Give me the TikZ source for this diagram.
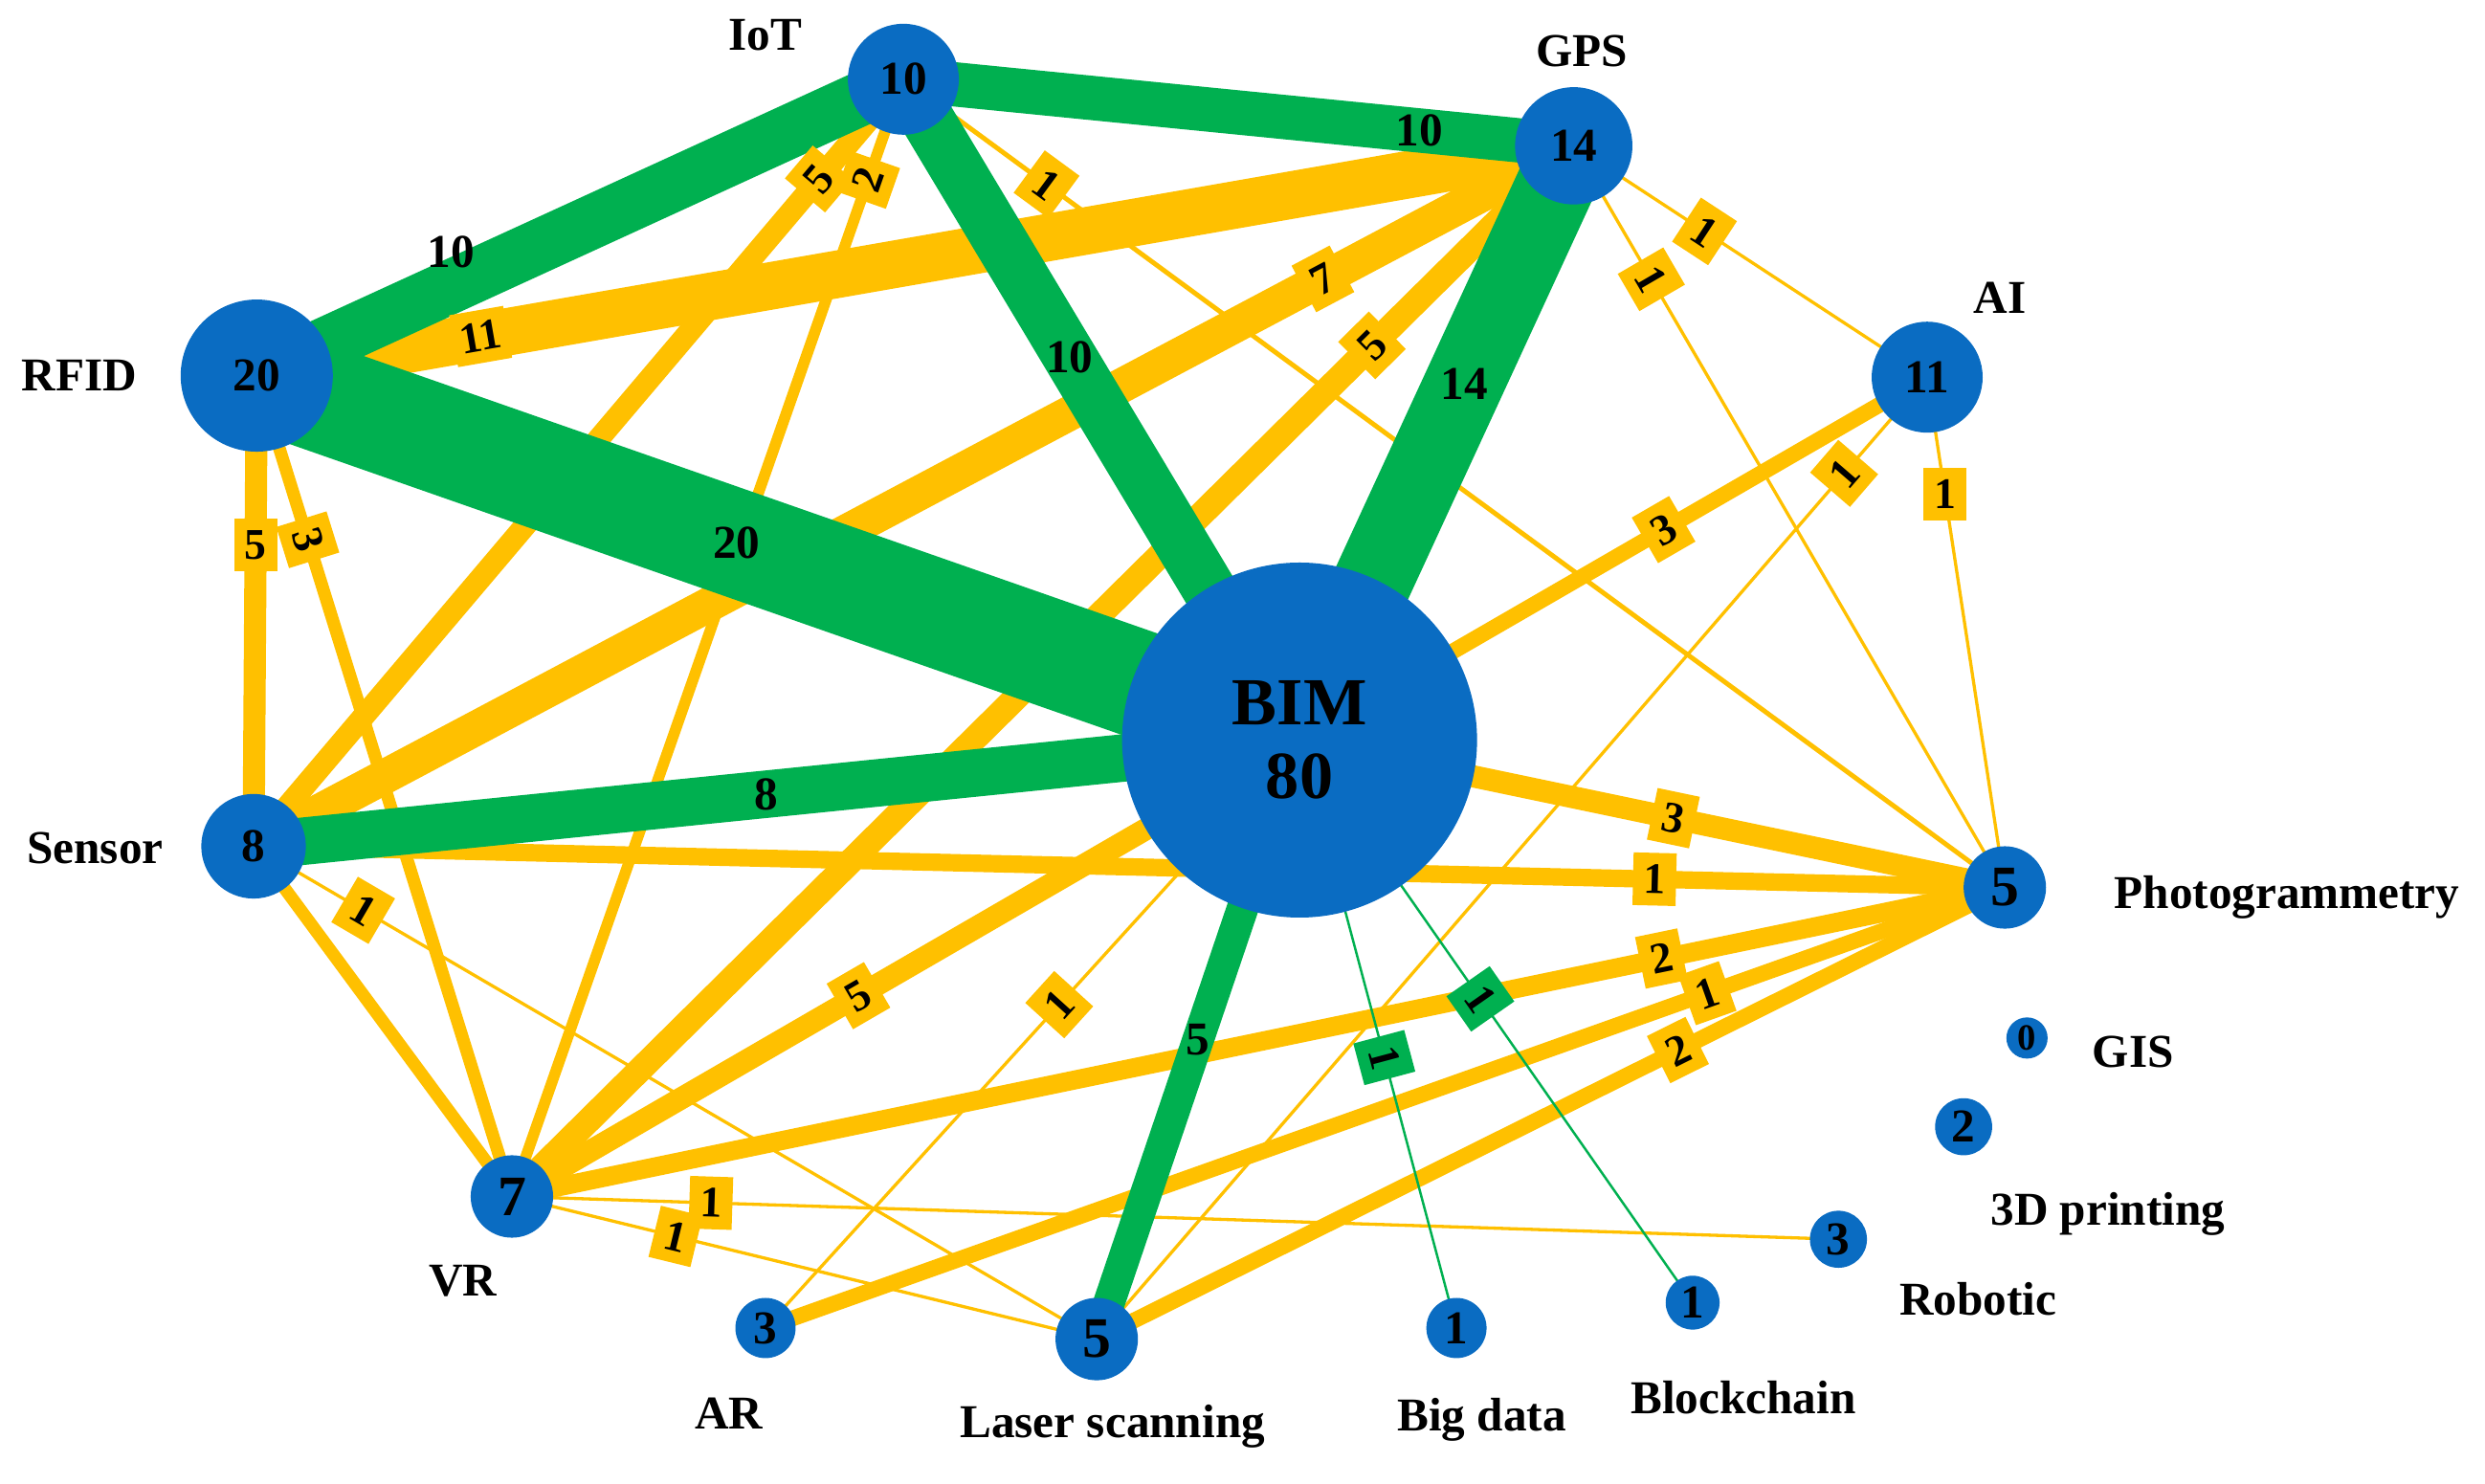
\documentclass[tikz,border=0pt]{standalone}
\usepackage{fontspec}
\setmainfont{Liberation Serif}
\definecolor{nb}{HTML}{0A6CC2}
\definecolor{gr}{HTML}{00B050}
\definecolor{ye}{HTML}{FFC000}
\begin{document}
\begin{tikzpicture}[x=0.01656cm,y=-0.01656cm,
 w/.style={line width=#1*0.47pt},
 Y/.style={draw=ye,w=#1},
 G/.style={draw=gr,w=#1},
 nd/.style={circle,fill=nb,inner sep=0pt,minimum size=#1*0.01656cm,font=\fontsize{14}{14}\selectfont\bfseries},
 lab/.style={font=\fontsize{14}{16}\selectfont\bfseries},
 yb/.style={fill=ye,inner sep=2pt,minimum width=0.45cm,minimum height=0.55cm,sloped,font=\fontsize{13}{13}\selectfont\bfseries},
 gb/.style={fill=gr,inner sep=2pt,minimum width=0.45cm,minimum height=0.55cm,sloped,font=\fontsize{13}{13}\selectfont\bfseries},
 gt/.style={font=\fontsize{14}{14}\selectfont\bfseries}]
\useasboundingbox (0,0) rectangle (1568,936);
\fill[white] (0,0) rectangle (1568,936);
% coordinates
\coordinate (bim) at (820,467);
\coordinate (iot) at (570,50);
\coordinate (gps) at (993,92);
\coordinate (rfid) at (162,237);
\coordinate (ai) at (1216,238);
\coordinate (sen) at (160,534);
\coordinate (pho) at (1265,560);
\coordinate (gis) at (1279,655);
\coordinate (tdp) at (1239,711);
\coordinate (rob) at (1160,782);
\coordinate (blk) at (1068,822);
\coordinate (big) at (919,838);
\coordinate (las) at (692,845);
\coordinate (ar) at (483,838);
\coordinate (vr) at (323,755);
% yellow edges
\draw[Y=30] (rfid) -- (gps);
\draw[Y=22] (sen) -- (gps);
\draw[Y=16] (vr) -- (gps);
\draw[Y=14] (sen) -- (iot);
\draw[Y=7] (vr) -- (iot);
\draw[Y=3] (iot) -- (pho);
\draw[Y=14] (rfid) -- (sen);
\draw[Y=8] (rfid) -- (vr);
\draw[Y=2] (gps) -- (ai);
\draw[Y=2] (gps) -- (pho);
\draw[Y=10] (ai) -- (bim);
\draw[Y=2] (ai) -- (pho);
\draw[Y=2] (ai) -- (las);
\draw[Y=14] (bim) -- (pho);
\draw[Y=11] (sen) -- (pho);
\draw[Y=12] (vr) -- (pho);
\draw[Y=10] (las) -- (pho);
\draw[Y=10] (ar) -- (pho);
\draw[Y=2] (sen) -- (las);
\draw[Y=8] (sen) -- (vr);
\draw[Y=2] (vr) -- (rob);
\draw[Y=2] (vr) -- (las);
\draw[Y=2] (bim) -- (ar);
\draw[Y=14] (bim) -- (vr);
% green edges
\draw[G=34] (rfid) -- (iot);
\draw[G=28] (iot) -- (gps);
\draw[G=34] (bim) -- (iot);
\draw[G=50] (bim) -- (gps);
\draw[G=68] (bim) -- (rfid);
\draw[G=30] (bim) -- (sen);
\draw[G=20] (bim) -- (las);
\draw[G=1.5] (bim) -- (big);
\draw[G=1.5] (bim) -- (blk);
% labels on edges
\path (rfid) -- node[yb,pos=0.17]{11} (gps);
\path (sen) -- node[yb,pos=0.81]{7} (gps);
\path (vr) -- node[yb,pos=0.81]{5} (gps);
\path (sen) -- node[yb,pos=0.87]{5} (iot);
\path (vr) -- node[yb,pos=0.91]{2} (iot);
\path (iot) -- node[yb,pos=0.13]{1} (pho);
\path (rfid) -- node[yb,pos=0.36,sloped=false]{5} (sen);
\path (rfid) -- node[yb,pos=0.2]{3} (vr);
\path (gps) -- node[yb,pos=0.37]{1} (ai);
\path (gps) -- node[yb,pos=0.18]{1} (pho);
\path (ai) -- node[yb,pos=0.42]{3} (bim);
\path (ai) -- node[yb,pos=0.23,sloped=false]{1} (pho);
\path (ai) -- node[yb,pos=0.10]{1} (las);
\path (bim) -- node[yb,pos=0.53]{3} (pho);
\path (sen) -- node[yb,pos=0.80]{1} (pho);
\path (vr) -- node[yb,pos=0.77]{2} (pho);
\path (las) -- node[yb,pos=0.64]{2} (pho);
\path (ar) -- node[yb,pos=0.76]{1} (pho);
\path (sen) -- node[yb,pos=0.13]{1} (las);
\path (vr) -- node[yb,pos=0.15]{1} (rob);
\path (vr) -- node[yb,pos=0.28]{1} (las);
\path (bim) -- node[yb,pos=0.45]{1} (ar);
\path (bim) -- node[yb,pos=0.56]{5} (vr);
\path (rfid) -- node[gt,pos=0.3,above=2pt]{10} (iot);
\path (iot) -- node[gt,pos=0.77]{10} (gps);
\path (bim) -- node[gt,pos=0.58]{10} (iot);
\path (bim) -- node[gt,pos=0.6]{14} (gps);
\path (bim) -- node[gt,pos=0.54]{20} (rfid);
\path (bim) -- node[gt,pos=0.51]{8} (sen);
\path (bim) -- node[gt,pos=0.5]{5} (las);
\path (bim) -- node[gb,pos=0.54]{1} (big);
\path (bim) -- node[gb,pos=0.46]{1} (blk);
% nodes
\node[nd=224,font=\fontsize{20}{22}\selectfont\bfseries,align=center] (nbim) at (bim) {BIM\\80};
\node[nd=70] (niot) at (iot) {10};
\node[nd=74] (ngps) at (gps) {14};
\node[nd=96] (nrfid) at (rfid) {20};
\node[nd=70] (nai) at (ai) {11};
\node[nd=66] (nsen) at (sen) {8};
\node[nd=52,font=\fontsize{17}{17}\selectfont\bfseries] (npho) at (pho) {5};
\node[nd=26,font=\fontsize{11}{11}\selectfont\bfseries] (ngis) at (gis) {0};
\node[nd=36] (ntdp) at (tdp) {2};
\node[nd=36] (nrob) at (rob) {3};
\node[nd=34] (nblk) at (blk) {1};
\node[nd=38] (nbig) at (big) {1};
\node[nd=52,font=\fontsize{17}{17}\selectfont\bfseries] (nlas) at (las) {5};
\node[nd=38] (nar) at (ar) {3};
\node[nd=52,font=\fontsize{17}{17}\selectfont\bfseries] (nvr) at (vr) {7};
% names
\node[lab] (l1) at (483,22) {IoT};
\node[lab] (l2) at (998,32) {GPS};
\node[lab] (l3) at (50,237) {RFID};
\node[lab] (l4) at (1262,188) {AI};
\node[lab] (l5) at (60,535) {Sensor};
\node[lab] (l6) at (1443,566) {Photogrammetry};
\node[lab] (l7) at (1346,664) {GIS};
\node[lab] (l8) at (1330,766) {3D printing};
\node[lab] (l9) at (1248,820) {Robotic};
\node[lab] (l10) at (1100,882) {Blockchain};
\node[lab] (l11) at (935,896) {Big data};
\node[lab] (l12) at (702,900) {Laser scanning};
\node[lab] (l13) at (460,892) {AR};
\node[lab] (l14) at (292,808) {VR};
\end{tikzpicture}
\end{document}
